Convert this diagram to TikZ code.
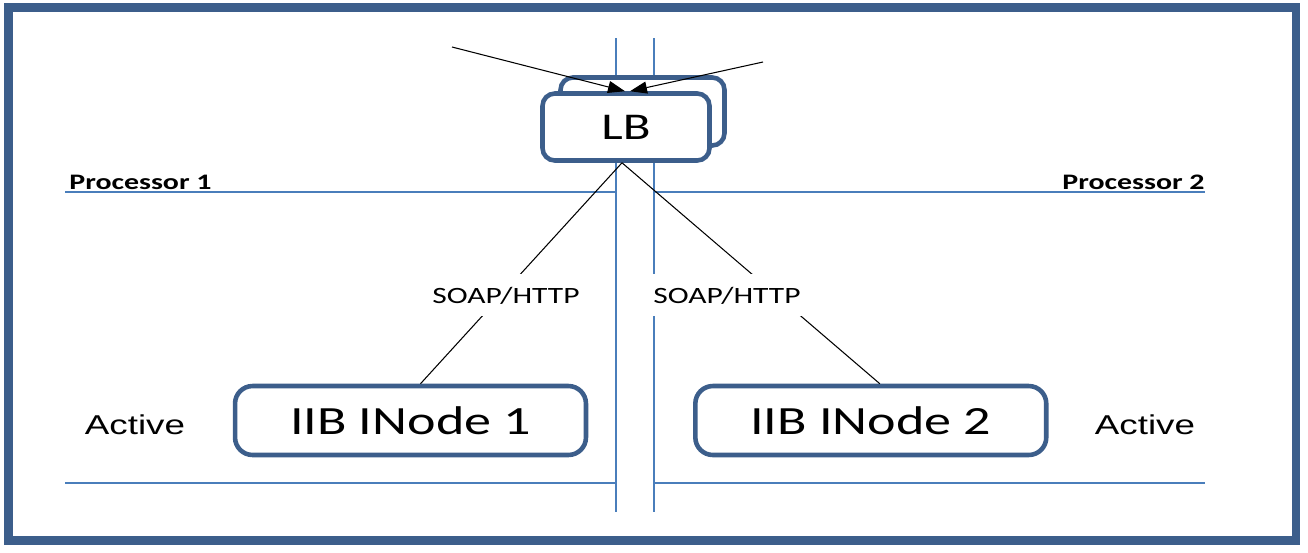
\documentclass[tikz,border=0pt]{standalone}
\usepackage{fontspec}
\setmainfont{Carlito}[FakeStretch=1.35]
\newfontfamily\arialfont{Liberation Sans}[FakeStretch=1.35]
\usepackage{xcolor}
\usetikzlibrary{arrows.meta}
\definecolor{boxblue}{HTML}{3C5E8B}
\definecolor{lineblue}{HTML}{4A7EBB}

\begin{document}
\begin{tikzpicture}[x=0.02cm,y=-0.02cm,
  box/.style={rectangle,draw=boxblue,line width=2.6pt,fill=white,inner sep=0pt},
  lbbox/.style={box,rounded corners=7pt,font=\fontsize{21.5}{25}\selectfont},
  inode/.style={box,rounded corners=10pt,minimum width=7.02cm,minimum height=1.38cm,font=\fontsize{22.8}{26}\selectfont},
  proto/.style={fill=white,inner xsep=3pt,inner ysep=7pt,anchor=base,font=\fontsize{13.3}{16}\selectfont},
  proc/.style={inner sep=0pt,font=\fontsize{12.6}{15}\selectfont\bfseries},
  state/.style={inner sep=0pt,anchor=base,font=\fontsize{15.5}{18}\selectfont\arialfont},
  sep/.style={lineblue,line width=0.8pt},
  ar/.style={-{Triangle[length=0.34cm,width=0.24cm]},black,line width=0.6pt},
  ln/.style={black,line width=0.6pt}]
\useasboundingbox (0,0) rectangle (1308,552);
% frame
\draw[boxblue,line width=5pt] (8.5,7.5) rectangle (1296,540.5);
% processor separators
\draw[sep] (616,38) -- (616,512);
\draw[sep] (654,38) -- (654,512);
\draw[sep] (65,192) -- (616,192);
\draw[sep] (654,192) -- (1205,192);
\draw[sep] (65,483) -- (616,483);
\draw[sep] (654,483) -- (1205,483);
\node[proc,anchor=base west] (p1) at (69,189) {Processor 1};
\node[proc,anchor=base east] (p2) at (1205,189) {Processor 2};
% load balancer
\node[lbbox,minimum width=3.28cm,minimum height=1.36cm] (lbback) at (642.5,111.5) {};
\node[lbbox,minimum width=3.34cm,minimum height=1.34cm] (lb) at (626,127) {LB};
\coordinate (inL) at (452,47);
\coordinate (inR) at (763,62);
\draw[ar] (inL) -- ([xshift=-0.02cm]lb.north);
\draw[ar] (inR) -- ([xshift=0.08cm]lb.north);
% broker nodes
\node[inode] (n1) at (410.5,420.5) {IIB INode 1};
\node[inode] (n2) at (870.8,420.5) {IIB INode 2};
\node[state] (a1) at (135,434) {Active};
\node[state] (a2) at (1145,434) {Active};
\draw[ln] ([xshift=-0.08cm]lb.south) -- ([xshift=0.2cm]n1.north);
\draw[ln] ([xshift=-0.08cm]lb.south) -- ([xshift=0.18cm]n2.north);
\node[proto] (s1) at (506,303) {SOAP/HTTP};
\node[proto] (s2) at (727,303) {SOAP/HTTP};
\end{tikzpicture}
\end{document}
